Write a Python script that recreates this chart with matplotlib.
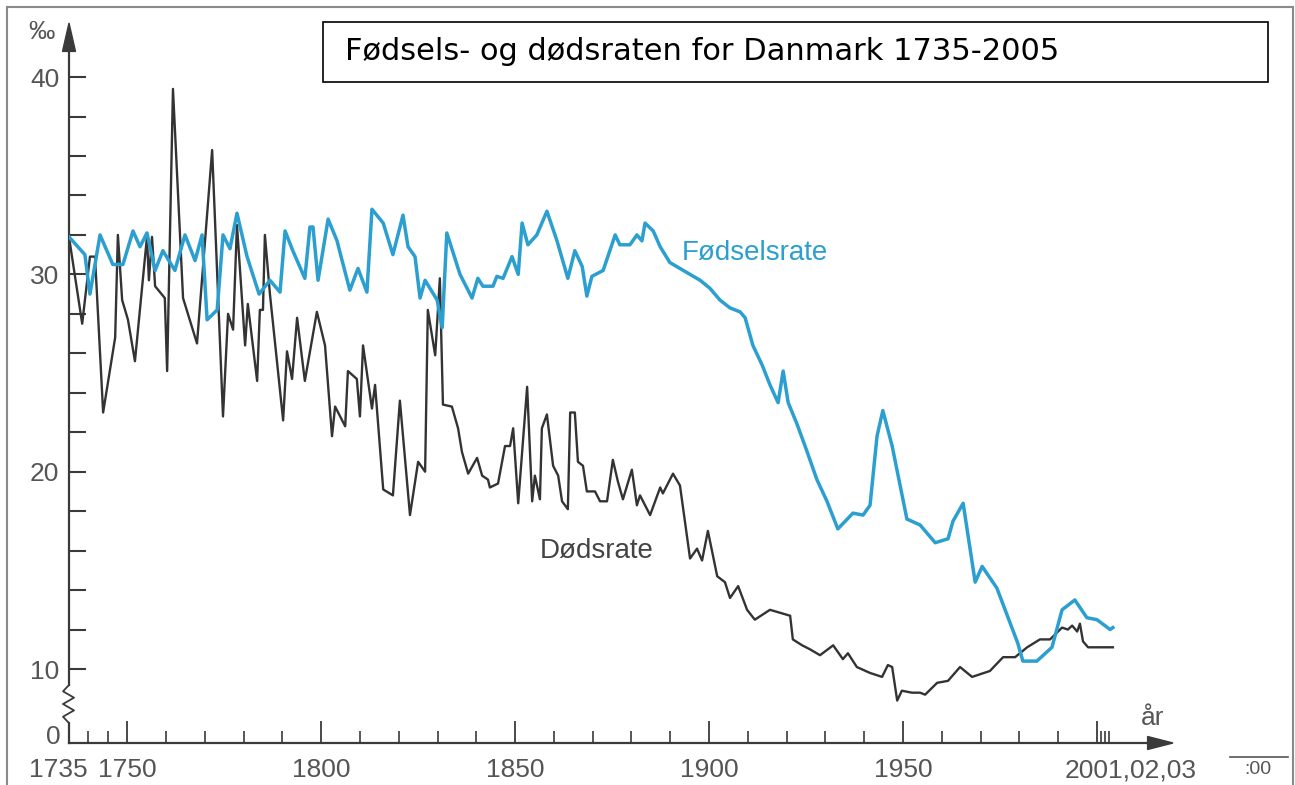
import numpy as np
import matplotlib.pyplot as plt
from matplotlib.patches import Rectangle, Polygon

plt.rcParams['font.family'] = ['Liberation Sans', 'DejaVu Sans']

# birth rate (per mille)
birth_years = [1735, 1739.1, 1740.4, 1743.0, 1746.3, 1748.9, 1751.5, 1753.3, 1755.1, 1757.2,
               1759.2, 1762.3, 1764.9, 1767.5, 1769.3, 1770.6, 1773.2, 1774.7, 1776.5, 1778.3,
               1780.9, 1784.0, 1786.8, 1789.4, 1790.7, 1792.7, 1795.8, 1797.1, 1797.9, 1799.2,
               1801.8, 1804.1, 1805.4, 1807.4, 1809.5, 1811.8, 1813.1, 1816.0, 1818.5, 1821.1,
               1822.4, 1824.2, 1825.5, 1826.8, 1829.9, 1831.2, 1832.4, 1835.8, 1838.9, 1840.4,
               1841.7, 1844.3, 1845.3, 1846.9, 1849.2, 1850.8, 1851.8, 1853.3, 1855.6, 1858.2,
               1860.8, 1863.6, 1865.4, 1867.3, 1868.5, 1869.8, 1872.7, 1875.8, 1877.0, 1879.6,
               1881.4, 1882.7, 1883.5, 1885.6, 1887.4, 1889.9, 1895.1, 1897.7, 1900.2, 1902.8,
               1905.4, 1908.0, 1909.3, 1911.3, 1913.7, 1915.7, 1917.8, 1919.1, 1920.4, 1922.7,
               1925.3, 1927.8, 1930.4, 1933.2, 1937.1, 1939.7, 1941.5, 1943.3, 1944.8, 1947.2,
               1951.0, 1954.4, 1958.3, 1961.6, 1962.9, 1965.5, 1968.6, 1970.4, 1974.2, 1979.6,
               1980.9, 1984.5, 1988.4, 1991.0, 1994.3, 1997.4, 2000.0, 2003.4, 2004.1]
birth_rates = [31.9, 31.0, 29.0, 32.0, 30.5, 30.5, 32.2, 31.4, 32.1, 30.2,
               31.2, 30.2, 32.0, 30.7, 32.0, 27.7, 28.2, 32.0, 31.3, 33.1,
               30.9, 29.0, 29.7, 29.1, 32.2, 31.2, 29.8, 32.4, 32.4, 29.7,
               32.8, 31.7, 30.7, 29.2, 30.3, 29.1, 33.3, 32.6, 31.0, 33.0,
               31.4, 30.9, 28.8, 29.7, 28.7, 27.3, 32.1, 30.0, 28.8, 29.8,
               29.4, 29.4, 29.9, 29.8, 30.9, 30.0, 32.6, 31.5, 32.0, 33.2,
               31.7, 29.8, 31.2, 30.4, 28.9, 29.9, 30.2, 32.0, 31.5, 31.5,
               32.0, 31.7, 32.6, 32.2, 31.4, 30.6, 30.0, 29.7, 29.3, 28.7,
               28.3, 28.1, 27.8, 26.4, 25.4, 24.4, 23.5, 25.1, 23.5, 22.4,
               21.0, 19.6, 18.5, 17.1, 17.9, 17.8, 18.3, 21.8, 23.1, 21.3,
               17.6, 17.3, 16.4, 16.6, 17.5, 18.4, 14.4, 15.2, 14.1, 11.3,
               10.4, 10.4, 11.1, 13.0, 13.5, 12.6, 12.5, 12.0, 12.1]

# death rate (per mille)
death_years = [1735, 1738.4, 1740.4, 1741.7, 1743.8, 1746.9, 1747.6, 1748.7, 1750.2, 1752.0,
               1755.1, 1755.6, 1756.4, 1757.2, 1759.7, 1760.3, 1761.8, 1764.4, 1768.0, 1771.9,
               1774.7, 1776.0, 1777.3, 1778.3, 1780.4, 1781.1, 1783.5, 1784.2, 1785.0, 1785.5,
               1786.8, 1790.2, 1791.2, 1792.5, 1793.8, 1795.8, 1798.9, 1801.0, 1802.8, 1803.6,
               1806.2, 1806.9, 1809.2, 1810.0, 1810.8, 1813.1, 1813.9, 1816.0, 1818.5, 1820.3,
               1822.9, 1825.0, 1826.8, 1827.5, 1829.4, 1830.6, 1831.4, 1833.7, 1835.3, 1836.3,
               1837.9, 1840.2, 1841.5, 1843.0, 1843.5, 1845.6, 1847.4, 1848.7, 1849.5, 1850.8,
               1853.1, 1854.4, 1855.1, 1856.4, 1856.9, 1858.2, 1859.8, 1861.1, 1862.1, 1863.6,
               1864.2, 1865.4, 1866.2, 1867.5, 1868.5, 1870.6, 1871.9, 1873.7, 1875.2, 1876.5,
               1877.8, 1880.1, 1881.4, 1882.2, 1884.8, 1887.4, 1888.1, 1890.7, 1892.5, 1895.1,
               1896.9, 1898.2, 1899.7, 1902.1, 1904.1, 1905.4, 1907.5, 1909.8, 1911.8, 1915.7,
               1920.9, 1921.6, 1924.0, 1926.0, 1928.6, 1932.0, 1934.5, 1935.8, 1938.1, 1941.5,
               1944.6, 1946.1, 1947.2, 1948.5, 1949.7, 1952.3, 1954.4, 1955.7, 1958.8, 1961.6,
               1964.7, 1967.8, 1972.4, 1975.8, 1978.9, 1982.0, 1985.3, 1987.9, 1991.0, 1992.5,
               1993.6, 1994.9, 1995.6, 1996.4, 1997.7, 2000.8, 2004.1]
death_rates = [31.9, 27.5, 30.9, 30.9, 23.0, 26.8, 32.0, 28.7, 27.7, 25.6,
               31.9, 29.7, 31.9, 29.4, 28.8, 25.1, 39.4, 28.8, 26.5, 36.3,
               22.8, 28.0, 27.2, 32.5, 26.4, 28.5, 24.6, 28.2, 28.2, 32.0,
               29.0, 22.6, 26.1, 24.7, 27.8, 24.6, 28.1, 26.4, 21.8, 23.3,
               22.3, 25.1, 24.7, 22.8, 26.4, 23.2, 24.4, 19.1, 18.8, 23.6,
               17.8, 20.5, 20.0, 28.2, 25.9, 29.8, 23.4, 23.3, 22.2, 21.0,
               19.9, 20.7, 19.8, 19.6, 19.2, 19.4, 21.3, 21.3, 22.2, 18.4,
               24.3, 18.5, 19.8, 18.6, 22.2, 22.9, 20.3, 19.8, 18.5, 18.1,
               23.0, 23.0, 20.5, 20.3, 19.0, 19.0, 18.5, 18.5, 20.6, 19.5,
               18.6, 20.1, 18.3, 18.8, 17.8, 19.2, 18.9, 19.9, 19.3, 15.6,
               16.1, 15.5, 17.0, 14.7, 14.4, 13.6, 14.2, 13.0, 12.5, 13.0,
               12.7, 11.5, 11.2, 11.0, 10.7, 11.2, 10.5, 10.8, 10.1, 9.8,
               9.6, 10.2, 10.1, 8.4, 8.9, 8.8, 8.8, 8.7, 9.3, 9.4,
               10.1, 9.6, 9.9, 10.6, 10.6, 11.1, 11.5, 11.5, 12.1, 12.0,
               12.2, 11.9, 12.3, 11.4, 11.1, 11.1, 11.1]

major_years = [1750, 1800, 1850, 1900, 1950, 2000]
major_labels = ['1750', '1800', '1850', '1900', '1950', '']
minor_years = [1740, 1745, 1760, 1770, 1780, 1790, 1810, 1820, 1830, 1840, 1860, 1870, 1880, 1890,
               1910, 1920, 1930, 1940, 1960, 1970, 1980, 1990, 2001, 2002, 2003]
y_major = [10, 20, 30, 40]
y_minor = [12, 14, 16, 18, 22, 24, 26, 28, 32, 34, 36, 38]

blue = '#2b9fcf'
dark = '#333333'
axc = '#3a3a3a'
txt = '#555555'

W, H = 1295, 785
fig = plt.figure(figsize=(W / 100, H / 100), dpi=100)
fig.patch.set_facecolor('white')
ax = fig.add_axes([69 / W, 1 - 743 / H, 1104 / W, 720 / H])

y0 = 6.25  # position of the broken "0"
ax.set_xlim(1735, 2019.6)
ax.set_ylim(y0, 42.74)

ax.plot(birth_years, birth_rates, color=blue, lw=2.5, zorder=3)
ax.plot(death_years, death_rates, color=dark, lw=1.7, zorder=2)

for s in ax.spines.values():
    s.set_visible(False)

# axis lines with arrows and the break mark
tr = ax.get_yaxis_transform()
px = 1 / 1104
ax.plot([0, 0], [y0, 7.26], color=axc, lw=1.6, transform=tr, clip_on=False)
zx = np.array([0, -6, 5, -6, 5, -6, 0]) * px
zy = np.linspace(7.26, 9.19, 7)
ax.plot(zx, zy, color=axc, lw=1.3, transform=tr, clip_on=False)
ax.plot([0, 0], [9.19, 41.4], color=axc, lw=1.6, transform=tr, clip_on=False)
ax.add_patch(Polygon([(-6.5 * px, 41.3), (6.5 * px, 41.3), (0, 42.74)], closed=True,
                     color=axc, transform=tr, clip_on=False))
ax.plot([0, 0.978], [y0, y0], color=axc, lw=1.6, transform=tr, clip_on=False)
ax.add_patch(Polygon([(0.977, y0 - 0.33), (0.977, y0 + 0.33), (1.0, y0)], closed=True,
                     color=axc, transform=tr, clip_on=False))

ax.set_xticks(major_years)
ax.set_xticklabels(major_labels)
ax.set_xticks(minor_years, minor=True)
ax.set_yticks(y_major)
ax.set_yticklabels([str(v) for v in y_major])
ax.set_yticks(y_minor, minor=True)
ax.tick_params(axis='x', which='major', direction='in', length=16, width=1.3, color=axc,
               labelsize=19, labelcolor=txt, pad=11)
ax.tick_params(axis='x', which='minor', direction='in', length=9, width=1.2, color=axc)
ax.tick_params(axis='y', which='both', direction='in', length=12, width=1.5, color=axc,
               labelsize=19, labelcolor=txt, pad=7)

ax.annotate('0', xy=(0, 6.55), xycoords=('axes fraction', 'data'), xytext=(-6, 0),
            textcoords='offset points', ha='right', va='center', fontsize=19, color=txt)
ax.annotate('1735', xy=(1732.2, y0), xycoords='data', xytext=(0, -11),
            textcoords='offset points', ha='center', va='top', fontsize=19, color=txt,
            annotation_clip=False)
ax.annotate('2001,02,03', xy=(2008.8, y0), xycoords='data', xytext=(0, -11),
            textcoords='offset points', ha='center', va='top', fontsize=19, color=txt,
            annotation_clip=False)
fig.text(1153 / W, 1 - 718 / H, 'år', fontsize=19, color=txt, ha='center', va='center')
fig.text(41 / W, 1 - 32 / H, '‰', fontsize=19, color=txt, ha='center', va='center')

ax.text(1893.0, 31.1, 'Fødselsrate', color=blue, fontsize=20, ha='left', va='center')
ax.text(1856.4, 16.0, 'Dødsrate', color='#444444', fontsize=20, ha='left', va='center')

# title box
fig.add_artist(Rectangle((323 / W, 1 - 82 / H), 945 / W, 60 / H, transform=fig.transFigure,
                         fill=False, ec='black', lw=1.2))
fig.text(345 / W, 1 - 52 / H, 'Fødsels- og dødsraten for Danmark 1735-2005',
         family='DejaVu Sans', fontsize=22, ha='left', va='center', color='black')

# outer frame of the scan
fig.add_artist(Rectangle((7 / W, -0.02), 1286 / W, 1 - 7 / H + 0.02, transform=fig.transFigure,
                         fill=False, ec='#8a8a8a', lw=1.5))
fig.add_artist(plt.Line2D([1230 / W, 1288 / W], [1 - 757 / H, 1 - 757 / H],
                          transform=fig.transFigure, color=txt, lw=1.2))
fig.text(1258 / W, 1 - 761 / H, ':00', fontsize=14, color=txt, ha='center', va='top')

fig.savefig('out.png', dpi=100)
